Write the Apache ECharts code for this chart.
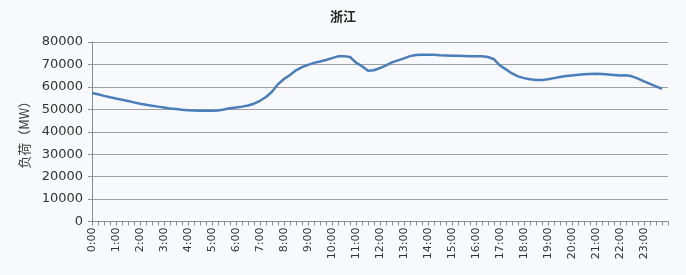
<!DOCTYPE html>
<html>
<head>
<meta charset="utf-8">
<script src="https://cdn.jsdelivr.net/npm/echarts@6/dist/echarts.min.js"></script>
<style>
html,body{margin:0;padding:0;background:#f8f9fc;}
#c{width:686px;height:275px;}
</style>
</head>
<body>
<div id="c"></div>
<script>
var titleText = '浙江';
var yAxisName = '负荷（MW）';
// 15-minute time categories, 0:00 .. 24:00
var categories = [];
for (var h = 0; h <= 24; h++) {
  var mins = h === 24 ? ['00'] : ['00', '15', '30', '45'];
  for (var m = 0; m < mins.length; m++) categories.push(h + ':' + mins[m]);
}
var loadValues = [
  57300, 56700, 56000, 55400,
  54800, 54300, 53700, 53100,
  52500, 52000, 51600, 51200,
  50800, 50400, 50100, 49800,
  49600, 49500, 49400, 49400,
  49400, 49500, 49900, 50500,
  50800, 51200, 51700, 52500,
  53800, 55500, 57800, 61200,
  63500, 65300, 67400, 68800,
  69800, 70700, 71300, 72000,
  72800, 73600, 73700, 73300,
  70800, 69200, 67200, 67400,
  68400, 69600, 70900, 71800,
  72700, 73700, 74200, 74300,
  74300, 74300, 74100, 74000,
  73900, 73900, 73800, 73700,
  73600, 73600, 73300, 72300,
  69500, 67800, 66000, 64700,
  63900, 63400, 63100, 63100,
  63400, 63900, 64400, 64800,
  65100, 65400, 65600, 65700,
  65800, 65700, 65500, 65300,
  65100, 65200, 64700, 63700,
  62500, 61300, 60200, 59100,
  null
];
var yMin = 0, yMax = 80000, yInterval = 10000;

var chart = echarts.init(document.getElementById('c'), null, {renderer: 'canvas'});
chart.setOption({
  backgroundColor: '#f8f9fc',
  animation: false,
  title: {
    text: titleText,
    left: 'center',
    top: 5,
    textStyle: {fontFamily: 'Noto Sans CJK SC', fontSize: 13, fontWeight: 'bold', color: '#262626'}
  },
  grid: {left: 92, right: 18, top: 42, bottom: 53.5, containLabel: false},
  xAxis: {
    type: 'category',
    data: categories,
    boundaryGap: false,
    axisLine: {lineStyle: {color: '#8c8c8c', width: 1}},
    axisTick: {show: true, interval: 0, length: 4, lineStyle: {color: '#8c8c8c'}},
    axisLabel: {
      rotate: 90,
      interval: function (i) { return i % 4 === 0 && i < 96; },
      fontFamily: 'DejaVu Sans',
      fontSize: 11,
      color: '#333',
      margin: 6
    },
    splitLine: {show: false}
  },
  yAxis: {
    type: 'value',
    min: yMin, max: yMax, interval: yInterval,
    name: yAxisName,
    nameLocation: 'middle',
    nameRotate: 90,
    nameGap: 60,
    nameTextStyle: {fontFamily: 'Noto Sans CJK SC', fontSize: 13, color: '#404040'},
    axisLine: {show: true, lineStyle: {color: '#8c8c8c'}},
    axisTick: {show: true, length: 4, lineStyle: {color: '#8c8c8c'}},
    axisLabel: {
      fontFamily: 'DejaVu Sans', fontSize: 13, color: '#333', margin: 9,
      formatter: function (v) { return String(v); }
    },
    splitLine: {lineStyle: {color: '#a0a0a0', width: 1}}
  },
  series: [{
    type: 'line',
    data: loadValues,
    showSymbol: false,
    smooth: false,
    lineStyle: {color: '#4a7ebb', width: 2.5},
    itemStyle: {color: '#4a7ebb'}
  }]
});
</script>
</body>
</html>
